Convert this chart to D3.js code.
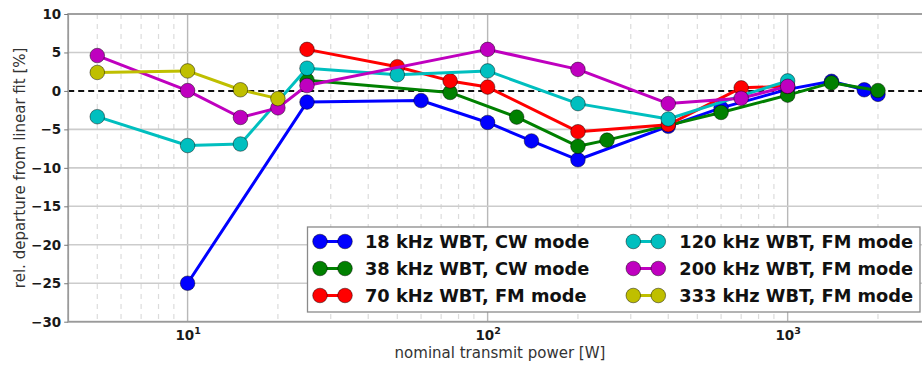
<!DOCTYPE html>
<html>
<head>
<meta charset="utf-8">
<script src="https://cdn.jsdelivr.net/npm/d3@7"></script>
<style>
  html, body { margin: 0; padding: 0; background: #fff; }
  svg { display: block; font-family: "DejaVu Sans", sans-serif; }
</style>
</head>
<body>
<svg id="chart" width="922" height="370"></svg>
<script>
// Transmit power (W) per transducer and relative departure from the linear fit (%)
const power18 = [10, 25, 60, 100, 140, 200, 400, 600, 1000, 1400, 1800, 2000];
const dev18 = [-25.0, -1.45, -1.25, -4.1, -6.5, -8.95, -4.6, -2.2, 0.2, 1.25, 0.15, -0.45];

const power38 = [25, 75, 125, 200, 250, 600, 1000, 1400, 2000];
const dev38 = [1.4, -0.2, -3.4, -7.2, -6.4, -2.8, -0.55, 1.05, 0.05];

const power70 = [25, 50, 75, 100, 200, 400, 700, 1000];
const dev70 = [5.4, 3.15, 1.3, 0.5, -5.3, -4.4, 0.4, 0.6];

const power120 = [5, 10, 15, 25, 50, 100, 200, 400, 1000];
const dev120 = [-3.35, -7.1, -6.9, 2.95, 2.1, 2.6, -1.65, -3.65, 1.3];

const power200 = [5, 10, 15, 20, 25, 100, 200, 400, 700, 1000];
const dev200 = [4.6, 0.05, -3.45, -2.2, 0.7, 5.4, 2.8, -1.65, -0.95, 0.6];

const power333 = [5, 10, 15, 20];
const dev333 = [2.4, 2.6, 0.15, -1.0];

const seriesLabels = [
  "18 kHz WBT, CW mode", "38 kHz WBT, CW mode", "70 kHz WBT, FM mode",
  "120 kHz WBT, FM mode", "200 kHz WBT, FM mode", "333 kHz WBT, FM mode"
];
const seriesColors = ["#0000ff", "#008000", "#ff0000", "#00bfbf", "#bf00bf", "#bfbf00"];

const yTicks = [-30, -25, -20, -15, -10, -5, 0, 5, 10];
const xMajorTicks = [10, 100, 1000];
const xMinorTicks = [4, 5, 6, 7, 8, 9, 20, 30, 40, 50, 60, 70, 80, 90,
                     200, 300, 400, 500, 600, 700, 800, 900, 2000, 3000];

const series = [
  { x: power18, y: dev18 },
  { x: power38, y: dev38 },
  { x: power70, y: dev70 },
  { x: power120, y: dev120 },
  { x: power200, y: dev200 },
  { x: power333, y: dev333 }
].map((s, i) => ({
  label: seriesLabels[i],
  color: seriesColors[i],
  points: s.x.map((p, j) => ({ p, v: s.y[j] }))
}));

const margin = { left: 68.2, top: 14, right: 930.8, bottom: 321.7 };
const svg = d3.select("#chart");

const x = d3.scaleLog().domain([4, 3000]).range([margin.left, margin.right]);
const y = d3.scaleLinear().domain([-30, 10]).range([margin.bottom, margin.top]);

// Minor vertical grid
svg.append("g").selectAll("line").data(xMinorTicks).join("line")
  .attr("x1", d => x(d)).attr("x2", d => x(d))
  .attr("y1", margin.top).attr("y2", margin.bottom)
  .attr("stroke", "#dcdcdc").attr("stroke-width", 1.2)
  .attr("stroke-dasharray", "5,5");

// Major vertical grid
svg.append("g").selectAll("line").data(xMajorTicks).join("line")
  .attr("x1", d => x(d)).attr("x2", d => x(d))
  .attr("y1", margin.top).attr("y2", margin.bottom)
  .attr("stroke", "#b8b8b8").attr("stroke-width", 1.4);

// Horizontal grid
svg.append("g").selectAll("line").data(yTicks.filter(d => d !== 0)).join("line")
  .attr("x1", margin.left).attr("x2", margin.right)
  .attr("y1", d => y(d)).attr("y2", d => y(d))
  .attr("stroke", "#cccccc").attr("stroke-width", 1.6);

// Zero reference line
svg.append("line")
  .attr("x1", margin.left).attr("x2", margin.right)
  .attr("y1", y(0)).attr("y2", y(0))
  .attr("stroke", "#111").attr("stroke-width", 2)
  .attr("stroke-dasharray", "6,4");

// Frame
svg.append("rect")
  .attr("x", margin.left).attr("y", margin.top)
  .attr("width", margin.right - margin.left).attr("height", margin.bottom - margin.top)
  .attr("fill", "none").attr("stroke", "#9a9a9a").attr("stroke-width", 1.8);

// Axes
const yAxis = svg.append("g")
  .attr("transform", `translate(${margin.left},0)`)
  .call(d3.axisLeft(y).tickValues(yTicks).tickSize(4).tickPadding(3)
    .tickFormat(d => (d < 0 ? "\u2212" + Math.abs(d) : String(d))));
yAxis.select(".domain").remove();
yAxis.selectAll(".tick line").attr("stroke", "#777");
yAxis.selectAll("text")
  .attr("font-family", "DejaVu Sans").attr("font-weight", "bold")
  .attr("font-size", "13.5px").attr("fill", "#1a1a1a");

const xAxis = svg.append("g")
  .attr("transform", `translate(0,${margin.bottom})`)
  .call(d3.axisBottom(x).tickValues(xMajorTicks).tickSize(0).tickPadding(5)
    .tickFormat(() => ""));
xAxis.select(".domain").remove();
xAxis.selectAll(".tick text").each(function (d) {
  const t = d3.select(this)
    .attr("font-family", "DejaVu Sans").attr("font-weight", "bold")
    .attr("font-size", "13.5px").attr("fill", "#1a1a1a")
    .attr("dy", "0.95em");
  t.append("tspan").text("10");
  t.append("tspan").text(String(Math.round(Math.log10(d))))
    .attr("font-size", "9.5px").attr("dy", "-0.6em");
});

// Axis titles
svg.append("text")
  .attr("x", 500).attr("y", 358)
  .attr("text-anchor", "middle")
  .attr("font-size", "15px").attr("fill", "#333")
  .text("nominal transmit power [W]");

svg.append("text")
  .attr("transform", `translate(25,${(margin.top + margin.bottom) / 2}) rotate(-90)`)
  .attr("text-anchor", "middle")
  .attr("font-size", "15px").attr("fill", "#333")
  .text("rel. departure from linear fit [%]");

// Series
const plot = svg.append("g");
const line = d3.line().x(d => x(d.p)).y(d => y(d.v));
series.forEach(s => {
  const g = plot.append("g");
  g.append("path").datum(s.points)
    .attr("d", line).attr("fill", "none")
    .attr("stroke", s.color).attr("stroke-width", 3)
    .attr("stroke-linejoin", "round");
  g.selectAll("circle").data(s.points).join("circle")
    .attr("cx", d => x(d.p)).attr("cy", d => y(d.v)).attr("r", 7.3)
    .attr("fill", s.color).attr("stroke", "rgba(0,0,0,0.5)").attr("stroke-width", 0.9);
});

// Legend
const legend = svg.append("g");
legend.append("rect")
  .attr("x", 307.5).attr("y", 227).attr("width", 612.5).attr("height", 85)
  .attr("fill", "#fff").attr("stroke", "#8a8a8a").attr("stroke-width", 1.3);

const legendCols = [{ x0: 320, xt: 365 }, { x0: 633.3, xt: 679.3 }];
const legendRows = [241.5, 268.5, 295.5];
series.forEach((s, i) => {
  const col = legendCols[Math.floor(i / 3)];
  const ry = legendRows[i % 3];
  const item = legend.append("g");
  item.append("line")
    .attr("x1", col.x0).attr("x2", col.x0 + 25)
    .attr("y1", ry).attr("y2", ry)
    .attr("stroke", s.color).attr("stroke-width", 3);
  [col.x0, col.x0 + 25].forEach(cx => item.append("circle")
    .attr("cx", cx).attr("cy", ry).attr("r", 7.3)
    .attr("fill", s.color).attr("stroke", "rgba(0,0,0,0.5)").attr("stroke-width", 0.9));
  item.append("text")
    .attr("x", col.xt).attr("y", ry).attr("dy", "0.36em")
    .attr("font-weight", "bold").attr("font-size", "17.8px").attr("fill", "#111")
    .text(s.label);
});
</script>
</body>
</html>
